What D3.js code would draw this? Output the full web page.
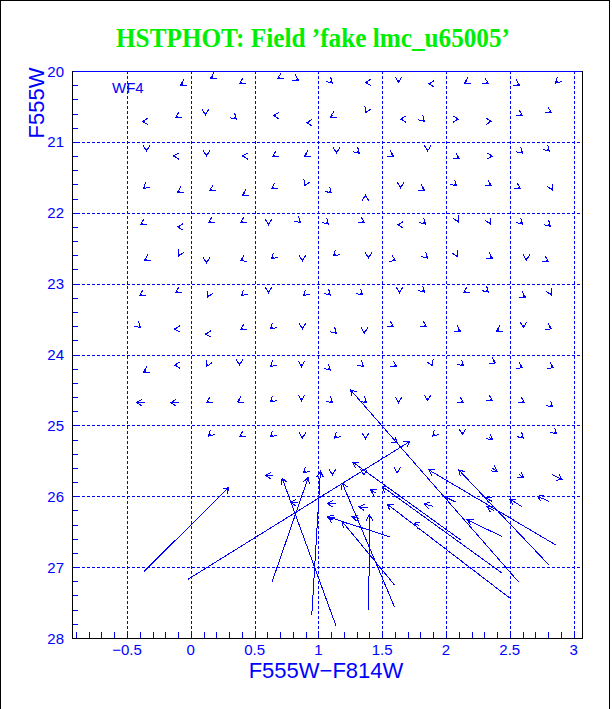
<!DOCTYPE html>
<html><head><meta charset="utf-8">
<script src="https://cdn.jsdelivr.net/npm/d3@7"></script>
<style>html,body{margin:0;padding:0;background:#fff;} svg{display:block;}</style>
</head><body>
<svg id="chart" width="612" height="709"></svg>
<script>
const titleText = "HSTPHOT: Field \u2019fake lmc_u65005\u2019";
const xAxisTitle = "F555W\u2212F814W";
const yAxisTitle = "F555W";
const chipLabel = "WF4";
const xDomain = [-0.931, 3.066];
const yDomain = [20, 28];
const xMajorTicks = [-0.5, 0, 0.5, 1, 1.5, 2, 2.5, 3];
const xTickLabels = ["\u22120.5", "0", "0.5", "1", "1.5", "2", "2.5", "3"];
const yMajorTicks = [20, 21, 22, 23, 24, 25, 26, 27, 28];
const yTickLabels = ["20", "21", "22", "23", "24", "25", "26", "27", "28"];
const xMinorStep = 0.1;
const yMinorStep = 0.2;

// short vectors: [colorOut, magOut, dColor, dMag]  (output position and displacement out-in)
const shortVectors = [
  // mag ~20.2
  [-0.081,20.20,-0.02,0.02],[0.155,20.10,-0.02,0.02],[0.382,20.18,-0.02,0.02],[0.680,20.11,-0.02,0.02],
  [0.844,20.13,0.02,0.02],[1.110,20.17,0.015,0.025],[1.369,20.16,-0.02,0],[1.628,20.16,0,0.03],
  [1.864,20.18,-0.02,0],[2.145,20.17,-0.02,0.02],[2.333,20.18,0.02,0.02],[2.576,20.20,0.02,0.02],
  [2.858,20.17,-0.015,0.025],
  // mag ~20.7
  [-0.379,20.71,-0.02,0],[-0.120,20.66,-0.02,0.02],[0.115,20.62,0,0.03],[0.358,20.68,0.015,0.025],
  [0.648,20.63,-0.02,0],[0.907,20.73,-0.02,0],[1.094,20.65,-0.02,0.02],[1.369,20.59,-0.008,0.03],
  [1.644,20.68,-0.02,0],[1.832,20.71,0.015,0.025],[2.098,20.68,0.02,0],[2.356,20.71,0.02,0],
  [2.600,20.63,0.02,0.02],[2.827,20.59,0.02,0.02],
  // mag ~21.2
  [-0.347,21.13,0,0.03],[-0.136,21.20,-0.02,0],[0.123,21.20,0,0.03],[0.405,21.20,-0.02,0],
  [0.640,21.21,-0.02,0.02],[0.891,21.20,-0.02,0.02],[1.142,21.16,0,0.03],[1.322,21.16,0.015,0.025],
  [1.589,21.20,0.02,0.02],[1.856,21.13,0,0.03],[2.105,21.24,0.02,0.02],[2.364,21.20,0.02,0],
  [2.600,21.16,0.015,0.025],[2.811,21.13,0.015,0.025],
  // mag ~21.7
  [-0.371,21.66,-0.015,0.025],[-0.104,21.71,-0.02,0.02],[0.147,21.69,-0.02,0.02],[0.405,21.75,-0.02,0.02],
  [0.632,21.66,-0.02,0.02],[0.891,21.62,-0.008,0.03],[1.102,21.72,0.015,0.025],[1.369,21.75,0,-0.03],
  [1.644,21.65,0,0.03],[1.832,21.68,0.02,0.02],[2.082,21.62,0.015,0.025],[2.356,21.62,0.02,0.02],
  [2.584,21.66,0.02,0.02],[2.835,21.68,0.008,0.03],
  // mag ~22.2
  [-0.394,22.17,-0.02,0.02],[-0.104,22.20,-0.02,0],[0.139,22.14,-0.02,0.02],[0.390,22.14,-0.02,0.02],
  [0.609,22.17,0,0.03],[0.860,22.14,0.015,0.025],[1.079,22.16,0.015,0.025],[1.361,22.14,0.02,0.02],
  [1.621,22.17,-0.02,0],[1.840,22.16,0.015,0.025],[2.098,22.13,0.008,0.03],[2.349,22.16,0.008,0.03],
  [2.600,22.16,0.015,0.025],[2.819,22.19,0.015,0.025],
  // mag ~22.7
  [-0.363,22.67,-0.02,0.02],[-0.096,22.61,-0.008,0.03],[0.123,22.71,0,0.03],[0.390,22.68,-0.02,0.02],
  [0.632,22.65,-0.015,0.025],[0.875,22.68,0,0.03],[1.118,22.61,-0.015,0.025],[1.393,22.64,0,0.03],
  [1.605,22.68,0.02,0.02],[1.856,22.64,0.015,0.025],[2.090,22.62,0.008,0.03],[2.364,22.64,0.02,0.02],
  [2.631,22.67,0,0.03],[2.803,22.69,0.02,0.02],
  // mag ~23.2
  [-0.402,23.17,-0.02,0.02],[-0.120,23.13,-0.02,0.02],[0.131,23.19,-0.008,0.03],[0.397,23.17,-0.015,0.025],
  [0.609,23.13,0,0.03],[0.883,23.17,-0.015,0.025],[1.094,23.16,0.015,0.025],[1.346,23.16,0.015,0.025],
  [1.636,23.13,0,0.03],[1.832,23.12,0.015,0.025],[2.137,23.13,-0.02,0.02],[2.333,23.12,0.015,0.025],
  [2.623,23.19,0.02,0.02],[2.827,23.16,0.008,0.03],
  // mag ~23.7
  [-0.394,23.62,0.015,0.025],[-0.128,23.64,-0.02,0],[0.115,23.71,-0.02,0],[0.390,23.65,-0.02,0.02],
  [0.625,23.64,-0.015,0.025],[0.875,23.64,0,0.03],[1.142,23.70,0.015,0.025],[1.361,23.70,0,0.03],
  [1.589,23.61,0.02,0.02],[1.848,23.61,0.02,0.02],[2.113,23.67,0.02,0.02],[2.396,23.67,-0.02,0.02],
  [2.607,23.62,0,0.03],[2.827,23.64,0.02,0.02],
  // mag ~24.2
  [-0.371,24.25,-0.02,0.02],[-0.128,24.15,-0.02,0],[0.123,24.17,-0.008,0.03],[0.382,24.15,0,0.03],
  [0.625,24.17,-0.015,0.025],[0.868,24.17,0,0.03],[1.094,24.22,0.015,0.025],[1.353,24.17,0.015,0.025],
  [1.613,24.17,0.02,0.02],[1.895,24.16,0.008,0.03],[2.137,24.16,0.015,0.025],[2.388,24.12,0.02,0.02],
  [2.600,24.19,0.02,0.02],[2.842,24.19,0.02,0.02],
  // mag ~24.7
  [-0.426,24.68,-0.07,0],[-0.159,24.68,-0.07,0],[0.123,24.68,-0.02,0.02],[0.366,24.67,-0.02,0.02],
  [0.625,24.67,-0.015,0.025],[0.868,24.65,0,0.03],[1.110,24.68,0.015,0.025],[1.377,24.68,0.015,0.025],
  [1.628,24.68,0,0.03],[1.856,24.65,0,0.03],[2.137,24.68,0.02,0.02],[2.364,24.65,0.02,0.02],
  [2.615,24.68,0.02,0.02],[2.835,24.74,0.015,0.025],
  // mag ~25.2
  [0.139,25.15,-0.015,0.025],[0.382,25.16,-0.02,0.02],[0.625,25.16,-0.015,0.025],[0.875,25.18,0,0.03],
  [1.126,25.18,-0.015,0.025],[1.369,25.19,0,0.03],[1.621,25.25,0.03,0.04],[1.895,25.15,-0.015,0.025],
  [2.129,25.13,0,0.03],[2.364,25.20,0.03,0.04],[2.607,25.18,0.015,0.025],[2.866,25.12,0.015,0.025],
  // mag ~25.7
  [0.585,25.71,-0.06,0],[0.883,25.67,-0.015,0.025],[1.110,25.70,0,0.03],[1.357,25.70,0,0.03],
  [1.618,25.67,0,0.03],[2.401,25.65,0.04,0.05],[2.610,25.74,0.04,0.05],[2.911,25.77,0.08,0.08],
  [1.408,25.91,-0.04,-0.04],
  // mag ~26.1
  [0.781,26.09,-0.06,0],[1.069,26.10,-0.07,-0.01],[1.317,26.15,-0.07,-0.01],[1.826,26.11,-0.07,-0.03],
  [1.996,26.01,-0.078,-0.07],[2.309,26.02,-0.05,-0.05],[2.323,26.15,-0.05,-0.05],[2.500,26.04,-0.097,-0.109],
  [2.715,26.00,-0.091,-0.07],[1.080,26.29,-0.03,-0.04],[1.265,26.29,-0.05,-0.02],[1.749,26.38,-0.04,-0.03]
];

// long vectors: [colorIn, magIn, colorOut, magOut]
const longVectors = [
  [-0.368,27.062,0.298,25.877],
  [-0.020,27.169,1.716,25.228],
  [0.638,27.203,0.920,25.736],
  [1.138,27.828,0.716,25.745],
  [0.948,27.680,1.016,25.649],
  [2.568,27.207,1.252,24.499],
  [1.395,27.612,1.400,26.262],
  [1.596,27.560,1.187,25.815],
  [2.114,26.615,1.270,25.519],
  [2.806,26.968,2.100,25.628],
  [2.858,26.685,1.865,25.628],
  [2.440,27.085,1.500,25.863],
  [2.500,27.437,1.539,26.111],
  [2.440,26.568,2.166,26.333],
  [1.560,26.573,1.069,26.286],
  [1.596,27.250,1.187,26.357]
];

const BLUE = "#0000ff";
const svg = d3.select("#chart");
const W = 612, H = 709;
const plot = {left: 72, right: 582, top: 71, bottom: 638};
const x = d3.scaleLinear().domain(xDomain).range([plot.left, plot.right]);
const y = d3.scaleLinear().domain(yDomain).range([plot.top, plot.bottom]);

svg.append("rect").attr("width", W).attr("height", H).attr("fill", "#fff");
// outer border
svg.append("path").attr("d", `M0.5,${H} L0.5,0.5 L609.5,0.5 L609.5,${H}`)
  .attr("fill", "none").attr("stroke", "#000").attr("stroke-width", 1).attr("shape-rendering", "crispEdges");

// title
svg.append("text").attr("x", 313).attr("y", 47).attr("text-anchor", "middle")
  .attr("font-family", "'Liberation Serif','Times New Roman',serif").attr("font-weight", "bold")
  .attr("font-size", 27).attr("fill", "#00ee00")
  .attr("textLength", 394).attr("lengthAdjust", "spacingAndGlyphs")
  .text(titleText);

const g = svg.append("g");
// gridlines
xMajorTicks.forEach(v => {
  g.append("line").attr("x1", Math.round(x(v)) + 0.5).attr("x2", Math.round(x(v)) + 0.5)
    .attr("y1", plot.top).attr("y2", plot.bottom)
    .attr("stroke", BLUE).attr("stroke-dasharray", "3,2").attr("shape-rendering", "crispEdges");
});
yMajorTicks.slice(1, -1).forEach(v => {
  g.append("line").attr("y1", Math.round(y(v)) + 0.5).attr("y2", Math.round(y(v)) + 0.5)
    .attr("x1", plot.left).attr("x2", plot.right)
    .attr("stroke", BLUE).attr("stroke-dasharray", "3,2").attr("shape-rendering", "crispEdges");
});

// minor ticks
const xMinor = d3.range(Math.ceil(xDomain[0] / xMinorStep), Math.floor(xDomain[1] / xMinorStep) + 1).map(k => k * xMinorStep);
xMinor.forEach(v => {
  const px = Math.round(x(v)) + 0.5;
  g.append("line").attr("x1", px).attr("x2", px).attr("y1", plot.bottom).attr("y2", plot.bottom - 6)
    .attr("stroke", BLUE).attr("shape-rendering", "crispEdges");
});
const yMinor = d3.range(Math.ceil(yDomain[0] / yMinorStep), Math.floor(yDomain[1] / yMinorStep) + 1).map(k => k * yMinorStep);
yMinor.forEach(v => {
  const py = Math.round(y(v)) + 0.5;
  g.append("line").attr("y1", py).attr("y2", py).attr("x1", plot.left).attr("x2", plot.left + 6)
    .attr("stroke", BLUE).attr("shape-rendering", "crispEdges");
});

// frame
g.append("line").attr("x1", plot.left + 0.5).attr("x2", plot.right + 0.5).attr("y1", plot.top + 0.5).attr("y2", plot.top + 0.5)
  .attr("stroke", BLUE).attr("shape-rendering", "crispEdges");
g.append("path").attr("d", `M${plot.left + 0.5},${plot.top} L${plot.left + 0.5},${plot.bottom + 0.5} L${plot.right + 0.5},${plot.bottom + 0.5} L${plot.right + 0.5},${plot.top}`)
  .attr("fill", "none").attr("stroke", "#000").attr("shape-rendering", "crispEdges");

// tick labels
const labelFont = "'Liberation Sans',Arial,sans-serif";
xMajorTicks.forEach((v, i) => {
  g.append("text").attr("x", x(v)).attr("y", 655).attr("text-anchor", "middle")
    .attr("font-family", labelFont).attr("font-size", 15).attr("fill", BLUE).text(xTickLabels[i]);
});
yMajorTicks.forEach((v, i) => {
  g.append("text").attr("x", 64).attr("y", y(v) + 5.5).attr("text-anchor", "end")
    .attr("font-family", labelFont).attr("font-size", 15).attr("fill", BLUE).text(yTickLabels[i]);
});

// axis titles
svg.append("text").attr("x", 326).attr("y", 678).attr("text-anchor", "middle")
  .attr("font-family", labelFont).attr("font-size", 22).attr("fill", BLUE).text(xAxisTitle);
svg.append("text").attr("transform", "translate(44,103) rotate(-90)").attr("text-anchor", "middle")
  .attr("font-family", labelFont).attr("font-size", 22).attr("fill", BLUE).text(yAxisTitle);

// chip label
svg.append("text").attr("x", 112).attr("y", 93)
  .attr("font-family", labelFont).attr("font-size", 15).attr("fill", BLUE).text(chipLabel);

// arrows
const headLen = 6.5, headAng = Math.PI / 6;
function arrowPath(x0, y0, x1, y1) {
  const a = Math.atan2(y1 - y0, x1 - x0);
  const b1 = a + Math.PI - headAng, b2 = a + Math.PI + headAng;
  return `M${x0},${y0}L${x1},${y1}M${x1 + headLen * Math.cos(b1)},${y1 + headLen * Math.sin(b1)}L${x1},${y1}L${x1 + headLen * Math.cos(b2)},${y1 + headLen * Math.sin(b2)}`;
}
const ag = svg.append("g").attr("fill", "none").attr("stroke", BLUE).attr("stroke-width", 1)
  .attr("shape-rendering", "crispEdges");
ag.selectAll("path.s").data(shortVectors).join("path").attr("class", "s")
  .attr("d", d => arrowPath(x(d[0] - d[2]), y(d[1] - d[3]), x(d[0]), y(d[1])));
ag.selectAll("path.l").data(longVectors).join("path").attr("class", "l")
  .attr("d", d => arrowPath(x(d[0]), y(d[1]), x(d[2]), y(d[3])));
</script>
</body></html>
